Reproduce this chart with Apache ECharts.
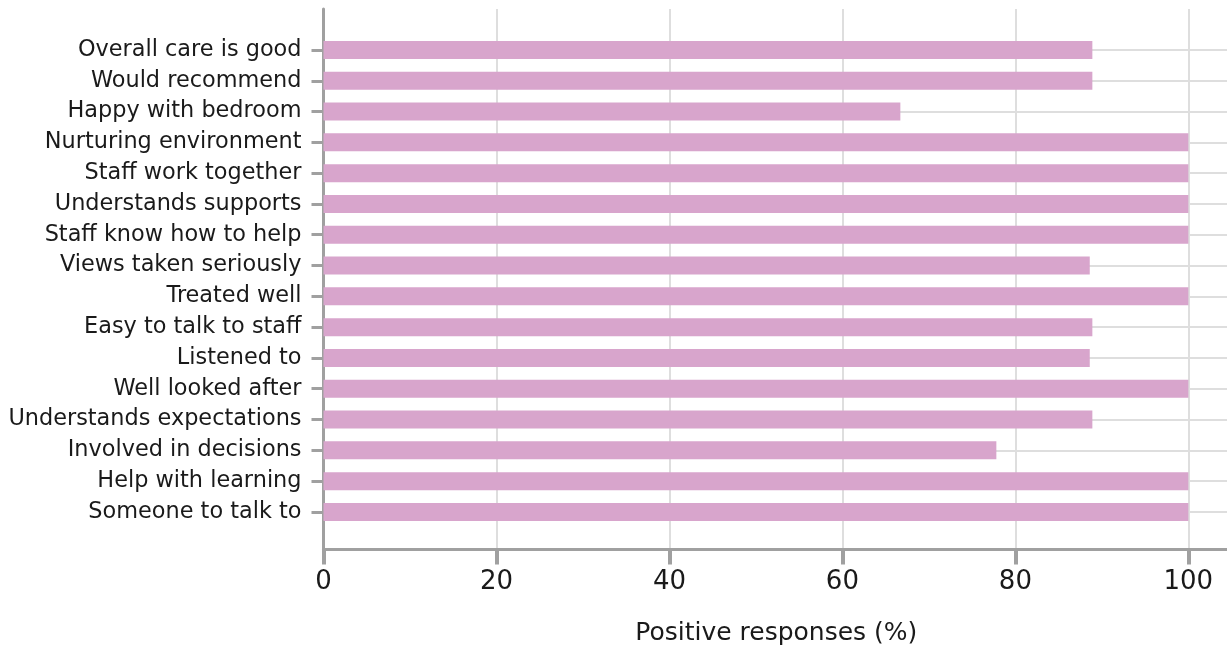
<!DOCTYPE html>
<html>
<head>
<meta charset="utf-8">
<script src="https://cdn.jsdelivr.net/npm/echarts@6/dist/echarts.min.js"></script>
<style>
  html, body { margin: 0; padding: 0; background: #fff; }
  #chart { width: 1227px; height: 648px; }
</style>
</head>
<body>
<div id="chart"></div>
<script>
// Survey items, listed top to bottom
const categories = [
  'Overall care is good', 'Would recommend', 'Happy with bedroom',
  'Nurturing environment', 'Staff work together', 'Understands supports',
  'Staff know how to help', 'Views taken seriously', 'Treated well',
  'Easy to talk to staff', 'Listened to', 'Well looked after',
  'Understands expectations', 'Involved in decisions', 'Help with learning',
  'Someone to talk to'
];
// Share of positive responses (%) for each item
const positive = [
  88.9, 88.9, 66.7, 100, 100, 100, 100, 88.6, 100,
  88.9, 88.6, 100, 88.9, 77.8, 100, 100
];
const xTicks = [0, 20, 40, 60, 80, 100];
const rowIndex = categories.map((_, i) => i);

const FONT = 'DejaVu Sans';
const TEXT = '#1a1a1a';
const AXIS_GREY = '#a0a0a0';
const GRID_GREY = '#dedede';
const X_MAX = 104.7;
const ROW_MIN = -1.33, ROW_MAX = 16.22;

const chart = echarts.init(document.getElementById('chart'), null, { renderer: 'canvas' });

// frame grid: axes, ticks, labels, grid lines; bar grid: the bars themselves
// (the plot runs a little past the right edge so the axis end tick falls off-canvas)
const frameTop = 9, frameBottom = 549.5;
const rowPx = (frameBottom - frameTop) / (ROW_MAX - ROW_MIN);
const barTop = frameTop + (-0.5 - ROW_MIN) * rowPx;
const barHeight = categories.length * rowPx;

chart.setOption({
  animation: false,
  backgroundColor: '#ffffff',
  textStyle: { fontFamily: FONT },
  grid: [
    { left: 323.5, right: -2, top: frameTop, height: frameBottom - frameTop, containLabel: false, outerBoundsMode: 'none' },
    { left: 323.5, right: -2, top: barTop, height: barHeight, containLabel: false, outerBoundsMode: 'none' }
  ],
  xAxis: [
    {
      gridIndex: 0, type: 'value', position: 'bottom', min: 0, max: X_MAX, interval: 20,
      name: 'Positive responses (%)', nameLocation: 'middle', nameGap: 71,
      nameTextStyle: { fontFamily: FONT, fontSize: 25, color: TEXT },
      axisLine: { show: true, onZero: false, lineStyle: { color: AXIS_GREY, width: 3 } },
      axisTick: { show: true, inside: false, length: 15, lineStyle: { color: AXIS_GREY, width: 4 } },
      axisLabel: { customValues: xTicks, margin: 20, fontFamily: FONT, fontSize: 26, color: TEXT },
      splitLine: { show: true, lineStyle: { color: GRID_GREY, width: 2 } }
    },
    {
      gridIndex: 1, type: 'value', min: 0, max: X_MAX, show: false,
      splitLine: { show: false }
    }
  ],
  yAxis: [
    {
      gridIndex: 0, type: 'value', position: 'left', inverse: true, min: ROW_MIN, max: ROW_MAX,
      axisLine: { show: true, onZero: false, lineStyle: { color: AXIS_GREY, width: 3 } },
      axisTick: { show: true, customValues: rowIndex, length: 12, lineStyle: { color: AXIS_GREY, width: 3 } },
      axisLabel: {
        customValues: rowIndex, margin: 22, fontFamily: FONT, fontSize: 22.4, color: TEXT,
        formatter: v => categories[Math.round(v)]
      },
      splitLine: { show: true, lineStyle: { color: GRID_GREY, width: 2 } }
    },
    {
      gridIndex: 1, type: 'category', inverse: true, data: categories, show: false,
      axisTick: { show: false }, axisLabel: { show: false }
    }
  ],
  series: [
    {
      type: 'bar', xAxisIndex: 1, yAxisIndex: 1,
      data: positive, barWidth: 18,
      itemStyle: { color: '#d8a5cc' },
      z: 3
    }
  ]
});
</script>
</body>
</html>
